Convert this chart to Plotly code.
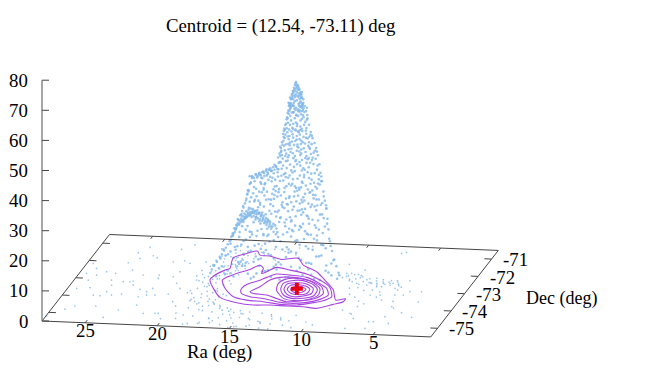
import plotly.graph_objects as go

# gnuplot-style view of the base plane, in window pixels
RA_MAX, RA_MIN = 28.0, 1.0
DEC_MIN, DEC_MAX = -75.5, -70.5
Z_MAX = 80
CLOUD_DEC = -73.0  # Dec of the cloud can't be read from the picture

ra_ticks = [25, 20, 15, 10, 5]
dec_ticks = [-75, -74, -73, -72, -71]
z_ticks = [0, 10, 20, 30, 40, 50, 60, 70, 80]
centroid_ra = [12.54]
centroid_dec = [-73.11]

# floor points
floor_ra = [
    27.95, 27.08, 26.57, 27.38, 27.04, 26.52, 25.91, 25.16, 25.43, 24.07,
    27.58, 27.09, 26.74, 27.50, 26.24, 25.55, 25.47, 25.20, 25.19, 24.68,
    24.06, 23.44, 24.59, 24.14, 23.96, 25.25, 24.58, 25.11, 24.70, 23.60,
    23.75, 23.07, 22.50, 22.27, 22.32, 21.76, 22.80, 22.47, 21.59, 20.80,
    20.58, 24.60, 23.94, 23.57, 22.52, 22.41, 22.28, 21.49, 20.92, 20.22,
    22.37, 21.55, 21.31, 20.92, 20.43, 19.15, 18.81, 18.38, 19.38, 19.75,
    21.07, 21.70, 19.90, 19.62, 19.34, 19.10, 18.92, 18.70, 18.45, 18.20,
    17.95, 17.70, 19.80, 19.48, 19.22, 18.98, 18.76, 18.52, 18.30, 18.05,
    17.80, 17.50, 20.15, 19.70, 19.40, 19.05, 18.85, 18.60, 18.35, 18.12,
    17.88, 17.60, 17.30, 17.05, 16.80, 16.45, 16.10, 15.70, 15.30, 14.90,
    14.50, 14.10, 13.70, 13.30, 12.90, 12.50, 12.10, 17.40, 16.95, 16.55,
    16.20, 15.85, 15.45, 15.05, 14.65, 14.25, 13.85, 13.45, 13.05, 12.65,
    18.10, 17.75, 17.35, 16.90, 16.30, 15.60, 14.80, 14.00, 13.20, 12.40,
    11.60, 10.90, 10.20, 9.60, 19.30, 18.55, 17.15, 16.65, 15.15, 11.20,
    19.55, 19.15, 18.88, 18.62, 18.38, 18.14, 17.92, 17.66, 17.44, 17.22,
    19.25, 18.95, 18.68, 18.42, 18.16, 17.90, 17.64, 17.38, 17.12, 16.86,
    20.05, 19.65, 19.28, 18.78, 18.48, 18.22, 17.98, 17.72, 17.48, 17.18,
    16.72, 16.35, 15.95, 15.50, 15.00, 14.40, 13.60, 12.80, 12.00, 11.40,
]
floor_dec = [
    -75.21, -74.78, -74.59, -73.59, -73.10, -73.52, -73.93, -74.54, -73.95, -75.16,
    -72.15, -72.43, -72.80, -72.73, -72.59, -72.66, -73.05, -73.33, -73.71, -73.89,
    -73.81, -74.71, -73.11, -73.10, -73.05, -72.04, -72.44, -71.45, -71.77, -72.69,
    -73.28, -73.50, -73.62, -73.42, -73.81, -73.79, -73.92, -74.39, -74.84, -74.81,
    -74.81, -71.13, -71.59, -71.69, -72.66, -72.85, -71.88, -72.72, -73.70, -74.12,
    -71.17, -71.80, -72.42, -73.08, -73.36, -75.05, -74.84, -75.35, -73.61, -72.85,
    -71.93, -70.89, -72.30, -73.45, -72.70, -73.95, -72.10, -73.20, -72.55, -73.72,
    -71.90, -73.05, -74.35, -71.70, -72.95, -71.60, -74.05, -71.25, -72.38, -74.50,
    -71.55, -72.82, -75.10, -71.05, -74.75, -71.40, -74.42, -72.00, -71.10, -74.88,
    -71.35, -74.25, -71.72, -74.60, -71.15, -74.48, -70.95, -74.72, -71.05, -74.85,
    -70.82, -74.95, -70.70, -75.05, -74.62, -75.15, -74.78, -75.28, -74.95, -75.10,
    -74.70, -75.30, -74.90, -75.18, -75.36, -74.88, -75.25, -75.02, -75.40, -74.85,
    -75.30, -74.55, -75.22, -74.98, -74.92, -75.05, -75.38, -75.32, -75.12, -75.42,
    -75.18, -75.30, -74.95, -75.10, -71.45, -70.85, -70.78, -75.20, -75.45, -74.60,
    -72.05, -72.62, -71.78, -73.12, -71.98, -72.48, -73.38, -71.62, -72.22, -73.58,
    -73.32, -72.28, -73.62, -72.74, -71.48, -73.88, -72.12, -74.10, -71.80, -74.22,
    -71.82, -72.52, -71.58, -73.02, -74.18, -71.52, -74.30, -71.98, -74.05, -71.25,
    -74.38, -71.92, -74.52, -71.55, -74.62, -71.20, -74.55, -74.70, -74.88, -74.92,
]
wedge_ra = [
    19.95, 19.55, 19.20, 18.90, 18.60, 18.30, 18.02, 17.76, 17.50, 17.24,
    19.70, 19.32, 19.00, 18.72, 18.44, 18.16, 17.90, 17.62, 17.36, 17.08,
    19.40, 19.12, 18.82, 18.54, 18.28, 18.00, 17.74, 17.46, 17.20, 16.92,
    18.66, 18.40, 18.14, 17.86, 17.58, 17.30, 17.02, 16.76, 16.50, 16.22,
    15.90, 15.55, 15.20, 14.85, 14.50, 10.05, 9.75, 9.45, 9.15, 8.85,
]
wedge_dec = [
    -72.62, -72.88, -72.34, -73.18, -72.06, -72.96, -72.44, -73.42, -71.84, -72.98,
    -73.58, -71.96, -73.84, -72.76, -73.46, -71.88, -73.28, -72.24, -73.74, -72.10,
    -71.72, -74.02, -72.58, -73.82, -72.72, -73.52, -71.62, -73.90, -72.46, -73.66,
    -71.46, -74.12, -71.66, -74.02, -71.36, -74.16, -71.52, -74.28, -71.30, -74.34,
    -74.42, -74.58, -74.46, -74.64, -74.52, -72.38, -72.26, -72.52, -72.16, -72.34,
]
tail_ra = [
    10.00, 9.67, 8.80, 8.94, 8.04, 7.79, 7.28, 7.01, 6.56, 5.96,
    5.05, 4.78, 3.69, 3.99, 5.36, 7.35, 7.07, 10.29, 5.22, 5.03,
    4.24, 3.32, 5.67, 5.99, 7.19, 7.23, 5.88, 4.57, 5.15, 7.53,
    7.68, 7.29, 6.62, 5.61, 9.85, 9.40, 9.10, 8.75, 8.45, 8.15,
    7.90, 7.60, 7.35, 7.10, 6.85, 6.60, 6.35, 6.10, 5.85, 5.60,
    9.50, 9.20, 8.90, 8.60, 8.30, 8.00, 7.70, 7.45, 7.20, 6.95,
    6.70, 6.45, 6.20, 5.95, 5.70, 9.05, 8.50, 7.95, 7.40, 6.80,
    8.70, 8.20, 7.75, 7.25, 6.75, 6.25, 9.30, 8.35, 7.55, 5.40,
]
tail_dec = [
    -72.13, -72.12, -72.67, -71.90, -72.74, -72.64, -72.81, -72.61, -72.59, -72.86,
    -73.22, -73.01, -73.56, -72.99, -72.40, -70.89, -70.82, -71.62, -73.89, -73.97,
    -74.21, -74.45, -74.78, -74.79, -74.64, -75.22, -75.17, -74.84, -74.47, -73.97,
    -74.36, -73.29, -73.27, -73.24, -72.30, -72.18, -72.42, -72.28, -72.55, -72.38,
    -72.60, -72.48, -72.72, -72.52, -72.66, -72.44, -72.58, -72.50, -72.70, -72.78,
    -72.45, -72.58, -72.22, -72.72, -72.44, -72.60, -72.34, -72.62, -72.40, -72.80,
    -72.52, -72.70, -72.42, -72.62, -72.95, -72.95, -72.90, -73.05, -73.00, -73.10,
    -73.30, -73.45, -73.65, -73.80, -73.40, -73.55, -74.15, -74.20, -74.40, -73.60,
]

# cloud: Ra and counts seen above the plane, cap of the peak first
peak_ra = [
    12.70, 12.62, 12.78, 12.55, 12.85, 12.47, 12.92, 12.40, 13.00, 12.33,
    12.68, 12.58, 12.75, 12.50, 12.88, 12.42, 12.95, 12.36, 13.03, 12.28,
    12.72, 12.60, 12.82, 12.46, 12.90, 12.38, 13.05, 12.30, 13.10, 12.24,
    12.65, 12.78, 12.52, 12.95, 12.33, 13.12, 12.22, 12.70, 12.45, 12.88,
    12.74, 12.66, 12.56, 12.48, 12.82, 12.90, 12.38, 12.98, 12.32, 13.06,
    12.64, 12.54, 12.44, 12.34, 12.26, 12.76, 12.86, 12.96, 13.08, 13.14,
    12.20, 12.18, 12.30, 12.42, 12.56, 12.68, 12.82, 13.00, 13.16, 13.22,
]
peak_counts = [
    68.0, 67.2, 67.0, 66.3, 66.1, 65.4, 65.0, 64.6, 64.0, 64.0,
    66.0, 65.5, 65.1, 64.2, 64.4, 63.6, 63.0, 62.8, 62.5, 62.8,
    63.9, 63.4, 63.5, 62.5, 62.3, 61.7, 61.0, 61.0, 60.5, 60.7,
    62.0, 61.6, 60.8, 60.3, 59.6, 59.0, 58.8, 59.5, 58.7, 58.0,
    67.6, 66.6, 66.8, 65.8, 65.6, 64.8, 64.2, 63.6, 63.2, 62.2,
    64.6, 63.2, 61.2, 60.2, 60.0, 63.0, 61.0, 60.0, 59.4, 60.2,
    61.2, 59.4, 58.4, 59.8, 58.4, 57.0, 59.2, 57.8, 58.4, 61.0,
]
body_ra = [
    13.22, 13.05, 12.88, 12.71, 12.55, 12.39, 12.22, 12.06, 11.95, 13.12,
    12.96, 12.79, 12.63, 12.47, 12.31, 12.14, 11.98, 13.28, 13.34, 12.85,
    12.50, 12.68, 12.30, 13.08, 12.18, 12.58, 12.90, 12.40, 12.75, 12.26,
    13.26, 13.10, 12.92, 12.74, 12.52, 12.36, 12.12, 11.92, 12.62, 13.18,
    13.50, 13.31, 13.12, 12.94, 12.75, 12.56, 12.37, 12.18, 11.99, 11.80,
    13.40, 13.21, 13.02, 12.84, 12.65, 12.46, 12.27, 12.08, 11.90, 11.70,
    13.55, 13.16, 12.90, 12.60, 12.33, 12.02, 13.28, 12.72, 12.42, 11.85,
    13.44, 13.24, 12.98, 12.66, 12.44, 12.24, 12.00, 11.78, 11.62, 13.58,
    13.75, 13.52, 13.27, 13.03, 12.78, 12.53, 12.29, 12.04, 11.79, 11.55,
    13.63, 13.38, 13.14, 12.89, 12.65, 12.40, 12.16, 11.91, 11.67, 11.38,
    13.80, 13.45, 13.08, 12.70, 12.35, 11.98, 11.60, 13.22, 12.48, 11.82,
    13.68, 13.48, 13.20, 12.92, 12.62, 12.34, 12.06, 11.74, 11.48, 11.34,
    14.42, 14.09, 13.77, 13.44, 13.12, 12.79, 12.47, 12.14, 11.82, 11.49,
    14.25, 13.93, 13.60, 13.28, 12.95, 12.63, 12.30, 11.98, 11.65, 11.25,
    14.60, 13.85, 13.35, 12.85, 12.40, 11.90, 11.12, 13.55, 12.20, 11.40,
    14.20, 13.98, 13.70, 13.40, 13.04, 12.74, 12.44, 12.10, 11.72, 11.20,
    15.85, 15.40, 14.95, 14.50, 14.05, 13.60, 13.15, 12.70, 12.25, 11.80,
    11.35, 10.95, 15.62, 15.17, 14.72, 14.27, 13.82, 13.37, 12.92, 12.47,
    12.02, 11.57, 11.12, 15.75, 15.30, 14.85, 14.40, 13.95, 13.50, 13.05,
    12.60, 12.15, 11.70, 11.25, 16.00, 15.05, 14.15, 13.25, 12.35, 11.45,
    15.58, 15.12, 14.62, 14.18, 13.72, 13.20, 12.78, 12.30, 11.88, 11.05,
    15.92, 15.48, 14.88, 14.34, 13.88, 13.42, 12.96, 12.50, 11.62, 11.18,
    16.15, 15.68, 15.20, 14.72, 14.24, 13.76, 13.28, 12.80, 12.32, 11.84,
    11.36, 10.88, 15.92, 15.44, 14.96, 14.48, 14.00, 13.52, 13.04, 12.56,
    12.08, 11.60, 11.12, 16.05, 15.56, 15.08, 14.60, 14.12, 13.64, 13.16,
    12.68, 12.20, 11.72, 11.24, 10.78, 15.32, 14.36, 13.40, 12.44, 11.48,
    15.82, 15.26, 14.78, 14.20, 13.70, 13.18, 12.62, 12.12, 11.52, 10.98,
    16.08, 15.60, 14.90, 14.44, 13.92, 13.34, 12.84, 12.26, 11.76, 11.28,
    16.50, 15.98, 15.46, 14.94, 14.42, 13.90, 13.38, 12.86, 12.34, 11.82,
    11.30, 10.78, 16.24, 15.72, 15.20, 14.68, 14.16, 13.64, 13.12, 12.60,
    12.08, 11.56, 11.04, 10.60, 16.38, 15.85, 15.33, 14.81, 14.29, 13.77,
    13.25, 12.73, 12.21, 11.69, 11.17, 16.10, 15.05, 14.00, 12.95, 11.90,
    14.55, 14.08, 13.52, 13.02, 12.46, 11.96, 11.42, 10.90, 13.80, 12.30,
    16.90, 16.35, 15.80, 15.25, 14.70, 14.15, 13.60, 13.05, 12.50, 11.95,
    11.40, 10.85, 16.62, 16.07, 15.52, 14.97, 14.42, 13.87, 13.32, 12.77,
    12.22, 11.67, 11.12, 10.55, 16.75, 16.20, 15.65, 15.10, 14.55, 14.00,
    13.45, 12.90, 12.35, 11.80, 11.25, 10.70, 15.38, 14.28, 13.18, 12.08,
    16.45, 15.92, 15.18, 14.62, 14.06, 13.50, 12.98, 12.42, 11.86, 11.32,
    17.25, 16.65, 16.05, 15.45, 14.85, 14.25, 13.65, 13.05, 12.45, 11.85,
    11.25, 10.65, 16.95, 16.35, 15.75, 15.15, 14.55, 13.95, 13.35, 12.75,
    12.15, 11.55, 10.95, 10.40, 17.10, 16.50, 15.90, 15.30, 14.70, 14.10,
    13.78, 13.22, 12.62, 12.02, 11.46, 10.82, 16.78, 16.18, 15.58, 14.96,
    17.95, 17.25, 16.55, 15.85, 15.15, 14.45, 13.75, 13.05, 12.35, 11.65,
    10.95, 10.25, 17.60, 16.90, 16.20, 15.50, 14.80, 14.10, 13.40, 12.70,
    12.00, 11.30, 10.60, 10.10, 17.75, 17.05, 16.35, 15.65, 14.95, 14.25,
    17.42, 16.72, 16.02, 15.32, 14.62, 13.92, 13.22, 12.52, 11.82, 11.12,
    18.65, 17.85, 17.05, 16.25, 15.45, 14.65, 13.85, 13.05, 12.25, 11.45,
    10.65, 9.85, 18.25, 17.45, 16.65, 15.85, 15.05, 14.25, 13.45, 12.65,
    11.85, 11.05, 10.25, 9.70, 18.45, 17.65, 16.85, 16.05, 15.25, 14.45,
    18.05, 17.25, 16.45, 15.65, 14.85, 14.05, 13.25, 12.45, 11.65, 10.45,
]
body_counts = [
    57.4, 55.2, 57.9, 54.6, 56.8, 55.3, 57.1, 54.9, 55.6, 53.7,
    52.8, 56.0, 53.4, 58.2, 52.6, 53.9, 52.9, 55.8, 52.5, 60.1,
    60.2, 57.1, 55.8, 59.7, 56.4, 59.0, 54.1, 53.3, 52.2, 60.3,
    54.4, 56.7, 52.4, 58.7, 51.4, 57.4, 58.2, 57.2, 54.2, 52.1,
    49.3, 51.2, 47.8, 50.6, 48.4, 51.7, 47.5, 49.9, 51.0, 48.2,
    47.2, 48.9, 51.5, 47.1, 50.1, 49.1, 51.8, 47.7, 49.4, 50.7,
    51.6, 50.0, 49.5, 47.3, 48.6, 52.0, 49.8, 51.9, 52.1, 47.0,
    50.4, 47.4, 48.2, 48.9, 50.6, 48.1, 49.6, 50.0, 47.6, 48.3,
    44.6, 46.7, 42.9, 45.8, 43.4, 46.3, 42.2, 44.9, 46.5, 43.1,
    42.4, 44.1, 46.9, 42.7, 45.2, 43.8, 46.1, 42.5, 44.3, 45.5,
    46.4, 43.3, 44.7, 42.1, 44.4, 43.6, 42.3, 45.6, 45.0, 42.9,
    43.6, 45.2, 43.6, 44.3, 46.6, 45.7, 42.9, 46.0, 44.8, 42.8,
    38.1, 39.6, 41.2, 37.6, 40.5, 38.4, 41.5, 37.3, 39.9, 41.0,
    37.4, 38.8, 40.1, 41.8, 37.9, 40.7, 38.7, 41.3, 37.8, 39.2,
    38.5, 41.1, 39.3, 39.8, 40.3, 38.2, 37.5, 37.2, 39.5, 38.0,
    40.2, 37.8, 39.0, 41.6, 38.6, 41.7, 37.0, 39.0, 41.4, 40.6,
    33.9, 35.8, 32.4, 36.2, 33.2, 35.1, 36.9, 32.8, 34.6, 36.3,
    33.5, 35.4, 32.6, 34.2, 36.6, 32.1, 34.9, 33.3, 35.7, 32.3,
    33.8, 32.2, 36.0, 35.5, 36.8, 34.0, 34.7, 36.4, 32.7, 33.6,
    35.9, 36.5, 34.4, 32.9, 31.5, 35.6, 35.3, 36.1, 33.1, 34.8,
    34.5, 33.7, 35.2, 33.0, 36.7, 34.1, 33.4, 35.0, 32.5, 34.3,
    36.1, 32.0, 33.6, 35.9, 32.2, 36.3, 34.2, 32.9, 35.8, 34.6,
    28.6, 30.5, 27.4, 31.2, 28.9, 30.1, 27.2, 31.6, 29.0, 27.8,
    30.7, 28.2, 27.6, 29.5, 31.8, 27.1, 29.7, 31.3, 28.0, 30.3,
    31.0, 27.5, 29.3, 31.4, 28.3, 30.9, 28.7, 31.5, 27.9, 30.0,
    28.4, 29.8, 31.7, 27.3, 30.4, 28.1, 30.6, 29.2, 27.7, 29.6,
    29.1, 31.1, 28.5, 30.2, 27.0, 29.4, 31.9, 28.8, 30.8, 27.6,
    30.2, 27.8, 29.9, 28.6, 31.2, 27.4, 30.0, 28.2, 31.4, 29.3,
    23.4, 25.6, 22.6, 26.2, 23.9, 25.1, 22.2, 26.6, 24.0, 22.8,
    25.7, 23.2, 22.4, 24.5, 26.8, 22.1, 24.7, 26.3, 23.0, 25.3,
    26.0, 22.5, 24.3, 26.4, 26.1, 23.3, 25.9, 23.7, 26.5, 22.9,
    25.0, 23.4, 24.8, 26.7, 22.3, 22.7, 24.2, 24.6, 25.5, 23.6,
    24.9, 23.1, 26.0, 22.0, 25.4, 23.8, 26.9, 24.4, 22.6, 25.8,
    18.4, 20.8, 17.6, 21.3, 18.9, 20.1, 17.2, 21.6, 19.0, 17.8,
    20.7, 18.2, 17.4, 19.5, 21.8, 17.1, 19.7, 21.3, 18.0, 20.3,
    21.0, 17.5, 19.3, 21.4, 21.7, 18.3, 20.9, 18.7, 21.5, 17.9,
    20.0, 18.4, 19.8, 21.1, 17.3, 20.4, 18.1, 20.6, 19.2, 18.6,
    19.4, 17.7, 20.5, 17.0, 19.1, 21.2, 18.8, 20.2, 17.5, 19.9,
    13.4, 15.8, 12.6, 16.3, 13.9, 15.1, 12.2, 16.6, 14.0, 12.8,
    15.7, 13.2, 12.4, 14.5, 16.8, 12.1, 14.7, 16.3, 13.0, 15.3,
    16.0, 12.5, 14.3, 16.4, 16.1, 13.3, 15.9, 13.7, 16.5, 12.9,
    14.9, 12.3, 15.5, 13.6, 16.2, 14.2, 12.7, 15.0, 13.1, 16.7,
    8.4, 10.8, 7.6, 11.3, 8.9, 10.1, 7.2, 11.6, 9.0, 7.8,
    10.7, 8.2, 9.4, 11.5, 7.3, 9.5, 11.8, 7.1, 9.7, 11.3,
    8.0, 10.3, 7.5, 9.3, 11.4, 8.7, 10.2, 7.7, 10.9, 9.1,
    9.9, 7.4, 11.0, 8.6, 10.5, 7.9, 11.2, 9.6, 8.1, 10.4,
    3.4, 5.8, 2.6, 6.3, 3.9, 5.1, 2.2, 6.6, 4.0, 2.8,
    5.7, 3.2, 2.4, 4.5, 6.8, 2.1, 4.7, 6.3, 3.0, 5.3,
    6.0, 2.5, 4.3, 4.4, 6.1, 3.3, 5.9, 3.7, 6.5, 2.9,
    5.0, 3.6, 6.2, 2.7, 4.8, 5.5, 3.1, 6.4, 4.2, 5.2,
]
ridge_ra = [
    16.80, 16.62, 16.45, 16.30, 16.15, 16.00, 15.85, 15.70, 15.55, 15.40,
    15.25, 15.10, 14.95, 14.80, 14.65, 14.50, 16.70, 16.52, 16.36, 16.20,
    16.05, 15.90, 15.76, 15.60, 15.45, 15.30, 15.15, 15.00, 14.86, 14.70,
    17.05, 16.90, 16.75, 16.58, 16.42, 16.26, 16.10, 15.95, 15.80, 15.65,
    15.50, 15.35, 15.20, 15.05, 14.90, 14.75, 14.58, 14.42, 14.26, 14.10,
    17.25, 17.10, 16.95, 16.85, 16.66, 16.48, 16.33, 16.18, 16.02, 15.88,
    15.72, 15.58, 15.42, 15.28, 15.12, 14.98, 14.84, 14.68, 14.52, 14.34,
    15.75, 15.50, 15.25, 15.00, 14.75, 14.50, 15.10, 14.90, 14.65, 14.40,
]
ridge_counts = [
    19.5, 21.2, 22.8, 23.6, 24.4, 25.0, 25.4, 25.2, 24.7, 24.9,
    24.2, 23.6, 23.1, 22.4, 21.7, 21.1, 19.8, 21.9, 22.6, 23.2,
    23.9, 24.2, 24.0, 23.8, 23.5, 23.7, 22.9, 22.4, 21.6, 20.9,
    16.8, 18.2, 20.4, 20.6, 21.4, 22.0, 22.7, 23.0, 22.6, 22.9,
    22.5, 22.2, 21.9, 21.4, 20.7, 20.1, 19.6, 18.9, 18.0, 17.2,
    14.6, 16.2, 17.4, 18.8, 20.0, 21.0, 21.6, 22.2, 23.4, 23.6,
    24.0, 24.4, 24.2, 24.0, 23.2, 22.0, 21.0, 21.3, 20.4, 19.7,
    36.0, 36.9, 37.4, 37.8, 38.6, 39.0, 35.8, 36.4, 37.2, 38.2,
]
edge_ra = [
    13.12, 13.20, 13.28, 13.36, 13.45, 13.52, 13.60, 13.68, 13.76, 13.85,
    13.95, 14.10, 14.30, 14.55, 14.80, 15.05, 15.25, 15.50, 15.75, 15.92,
    16.10, 16.25, 16.45, 16.70, 17.00, 17.20, 17.45, 17.70, 18.00, 18.40,
    12.30, 12.20, 12.10, 12.00, 11.90, 11.80, 11.68, 11.55, 11.42, 11.30,
    11.18, 11.08, 11.00, 10.90, 10.80, 10.70, 10.60, 10.52, 10.45, 10.35,
    10.20, 10.05, 9.90, 9.75, 11.95, 11.60, 11.25, 10.95, 10.62, 10.30,
    13.16, 13.24, 13.32, 13.40, 13.48, 13.56, 13.64, 13.72, 13.80, 13.90,
    14.00, 14.20, 14.42, 14.68, 14.92, 15.15, 15.38, 15.62, 15.84, 16.00,
    16.18, 16.35, 16.58, 16.85, 17.10, 17.32, 17.58, 17.85, 18.20, 18.55,
]
edge_counts = [
    62.8, 60.0, 57.6, 55.5, 53.6, 52.4, 50.6, 47.8, 45.9, 44.0,
    42.7, 39.8, 39.4, 38.6, 38.1, 37.6, 37.0, 36.6, 36.1, 33.5,
    30.0, 27.0, 24.4, 21.4, 18.6, 15.7, 13.2, 11.1, 8.9, 5.8,
    64.8, 62.4, 60.2, 58.5, 56.1, 54.0, 51.6, 49.6, 48.0, 46.4,
    44.0, 41.0, 38.2, 35.5, 32.0, 29.0, 26.4, 23.0, 19.5, 15.6,
    12.4, 9.6, 7.4, 5.2, 59.6, 50.4, 45.2, 37.0, 27.5, 14.0,
    60.8, 58.4, 56.2, 54.0, 52.0, 49.6, 47.0, 45.0, 43.2, 41.0,
    38.9, 38.6, 38.2, 37.6, 37.4, 36.6, 36.2, 35.6, 34.0, 31.0,
    28.0, 25.6, 23.0, 19.8, 16.9, 14.2, 12.0, 9.8, 7.2, 4.6,
]

# contour levels on the base plane, outermost first
contour1_ra = [18.85, 18.77, 18.36, 18.11, 18.35, 18.45, 17.86, 17.18, 16.79, 16.07, 15.11, 14.04, 13.35, 12.11, 11.11, 10.02, 9.34, 8.74, 8.74, 9.27, 10.18, 11.17, 12.32, 13.50, 14.62, 15.86, 17.26, 18.18]
contour1_dec = [-72.82, -72.53, -72.23, -72.12, -71.74, -71.52, -71.28, -71.09, -71.31, -71.34, -71.50, -71.40, -71.77, -72.11, -72.56, -73.10, -73.65, -73.56, -73.73, -73.90, -74.16, -74.10, -74.10, -74.08, -74.12, -74.03, -73.77, -73.28]
contour2_ra = [18.02, 17.87, 17.40, 16.79, 16.25, 15.87, 15.72, 15.47, 15.03, 13.99, 12.66, 11.44, 10.39, 9.78, 10.14, 10.70, 11.70, 12.86, 14.12, 15.33, 16.40, 17.40]
contour2_dec = [-72.79, -72.63, -72.39, -72.17, -71.88, -72.04, -72.33, -72.22, -71.96, -72.08, -72.26, -72.57, -72.96, -73.48, -73.72, -73.85, -74.02, -74.02, -73.91, -73.86, -73.70, -73.25]
contour3_ra = [16.27, 16.15, 15.56, 15.17, 14.68, 13.73, 12.48, 11.42, 10.56, 10.10, 10.43, 11.17, 12.24, 13.22, 14.30, 15.28, 16.02]
contour3_dec = [-73.27, -72.98, -72.75, -72.54, -72.33, -72.36, -72.45, -72.72, -73.02, -73.39, -73.65, -73.85, -73.94, -73.88, -73.73, -73.66, -73.50]
contour4_ra = [15.54, 15.13, 14.81, 14.28, 13.38, 12.08, 10.98, 10.52, 10.82, 11.59, 12.55, 13.40, 14.25, 15.23]
contour4_dec = [-73.38, -73.08, -72.68, -72.51, -72.48, -72.63, -72.94, -73.31, -73.61, -73.77, -73.86, -73.70, -73.53, -73.47]
contour5_ra = [13.84, 14.07, 13.84, 12.99, 11.92, 11.01, 10.77, 11.22, 12.04, 12.95]
contour5_dec = [-73.23, -72.85, -72.61, -72.53, -72.68, -73.04, -73.41, -73.68, -73.78, -73.68]
contour6_ra = [13.60, 13.74, 13.32, 12.53, 11.59, 11.10, 11.05, 11.60, 12.39, 13.12]
contour6_dec = [-73.18, -72.84, -72.67, -72.64, -72.86, -73.13, -73.48, -73.63, -73.66, -73.49]
contour7_ra = [13.38, 13.46, 12.99, 12.13, 11.46, 11.31, 11.73, 12.36, 12.95]
contour7_dec = [-73.17, -72.89, -72.78, -72.82, -73.05, -73.34, -73.50, -73.56, -73.43]
contour8_ra = [13.15, 13.17, 12.66, 11.95, 11.63, 11.64, 12.13, 12.72]
contour8_dec = [-73.17, -72.95, -72.88, -72.97, -73.12, -73.35, -73.44, -73.38]
contour9_ra = [12.93, 12.84, 12.33, 11.90, 11.98, 12.46]
contour9_dec = [-73.16, -73.00, -72.98, -73.12, -73.28, -73.34]

COLORS = {
    'points': '#7fb6e8',
    'contour': '#a845e0',
    'centroid': '#e60012',
    'border': '#454545',
    'zaxis': '#8a8a8a',
}
SERIF = 'Liberation Serif'


def project(ra, dec, z=0.0):
    """Orthographic gnuplot view: data values to window pixels"""
    a = RA_MAX - ra
    b = dec - DEC_MIN
    return 42 + 14.4 * a + 13.5 * b, 321 + 0.59 * a - 17.3 * b - 3.01 * z


def project_all(ras, decs, zs=None):
    zs = zs if zs is not None else [0.0] * len(ras)
    xy = [project(r, d, z) for r, d, z in zip(ras, decs, zs)]
    return [p[0] for p in xy], [p[1] for p in xy]


def add_segment(fig, p0, p1, color=COLORS['border'], width=1):
    fig.add_trace(go.Scatter(
        x=[p0[0], p1[0]], y=[p0[1], p1[1]], mode='lines',
        line=dict(color=color, width=width), hoverinfo='skip',
    ))


def add_label(fig, x, y, text, size=18.8, xanchor='center'):
    fig.add_annotation(
        x=x, y=y, xref='x', yref='y', text=text, showarrow=False,
        xanchor=xanchor, yanchor='middle',
        font=dict(family=SERIF, size=size, color='black'),
    )


fig = go.Figure()

# points on the floor, then the cloud above it
cloud_ra = peak_ra + body_ra + ridge_ra + edge_ra
cloud_counts = peak_counts + body_counts + ridge_counts + edge_counts
xs, ys = project_all(floor_ra + wedge_ra + tail_ra, floor_dec + wedge_dec + tail_dec)
fig.add_trace(go.Scatter(
    x=xs, y=ys, mode='markers',
    marker=dict(size=1.7, color=COLORS['points'], opacity=0.8, line=dict(width=0)),
))
xs, ys = project_all(cloud_ra, [CLOUD_DEC] * len(cloud_ra), cloud_counts)
fig.add_trace(go.Scatter(
    x=xs, y=ys, mode='markers',
    marker=dict(size=2.6, color=COLORS['points'], opacity=0.8, line=dict(width=0)),
))

# base frame
corners = [
    project(RA_MAX, DEC_MIN), project(RA_MIN, DEC_MIN),
    project(RA_MIN, DEC_MAX), project(RA_MAX, DEC_MAX), project(RA_MAX, DEC_MIN),
]
for p0, p1 in zip(corners[:-1], corners[1:]):
    add_segment(fig, p0, p1)
add_segment(fig, project(RA_MAX, DEC_MIN), project(RA_MAX, DEC_MIN, Z_MAX), COLORS['zaxis'], 1.5)

# ticks, mirrored on the opposite edges
for ra in ra_ticks:
    add_segment(fig, project(ra, DEC_MIN), project(ra, DEC_MIN + 0.15))
    add_segment(fig, project(ra, DEC_MAX), project(ra, DEC_MAX - 0.15))
    x, y = project(ra, DEC_MIN)
    add_label(fig, x, y + 8, str(ra))
for dec in dec_ticks:
    add_segment(fig, project(RA_MIN, dec), project(RA_MIN + 0.5, dec))
    add_segment(fig, project(RA_MAX, dec), project(RA_MAX - 0.5, dec))
    x, y = project(RA_MIN, dec)
    add_label(fig, x + 24, y + 0.7, str(dec))
for z in z_ticks:
    p = project(RA_MAX, DEC_MIN, z)
    add_segment(fig, p, (p[0] + 7, p[1]))
    add_label(fig, p[0] - 12, p[1], str(z), xanchor='right')

# contours, closed
for ras, decs in (
    (contour1_ra, contour1_dec), (contour2_ra, contour2_dec), (contour3_ra, contour3_dec),
    (contour4_ra, contour4_dec), (contour5_ra, contour5_dec), (contour6_ra, contour6_dec),
    (contour7_ra, contour7_dec), (contour8_ra, contour8_dec), (contour9_ra, contour9_dec),
):
    xs, ys = project_all(ras + ras[:1], decs + decs[:1])
    fig.add_trace(go.Scatter(
        x=xs, y=ys, mode='lines',
        line=dict(color=COLORS['contour'], width=1.1, shape='spline', smoothing=0.7),
    ))

# centroid
xs, ys = project_all(centroid_ra, centroid_dec)
fig.add_trace(go.Scatter(
    x=xs, y=ys, mode='markers',
    marker=dict(symbol='cross', size=10, color=COLORS['centroid'], line=dict(width=0)),
))

add_label(fig, 281, 26, 'Centroid = (12.54, -73.11) deg')
add_label(fig, 219, 352, 'Ra (deg)')
add_label(fig, 524, 298, 'Dec (deg)', size=18, xanchor='left')

fig.update_layout(
    width=645, height=375, autosize=False,
    margin=dict(l=0, r=0, t=0, b=0),
    showlegend=False,
    plot_bgcolor='white',
    paper_bgcolor='white',
    hovermode=False,
    xaxis=dict(range=[0, 645], visible=False, fixedrange=True),
    yaxis=dict(range=[375, 0], visible=False, fixedrange=True),
)

fig.write_html(
    "out.html",
    config=dict(displayModeBar=False),
    post_script="document.body.style.margin = '0';",
)
